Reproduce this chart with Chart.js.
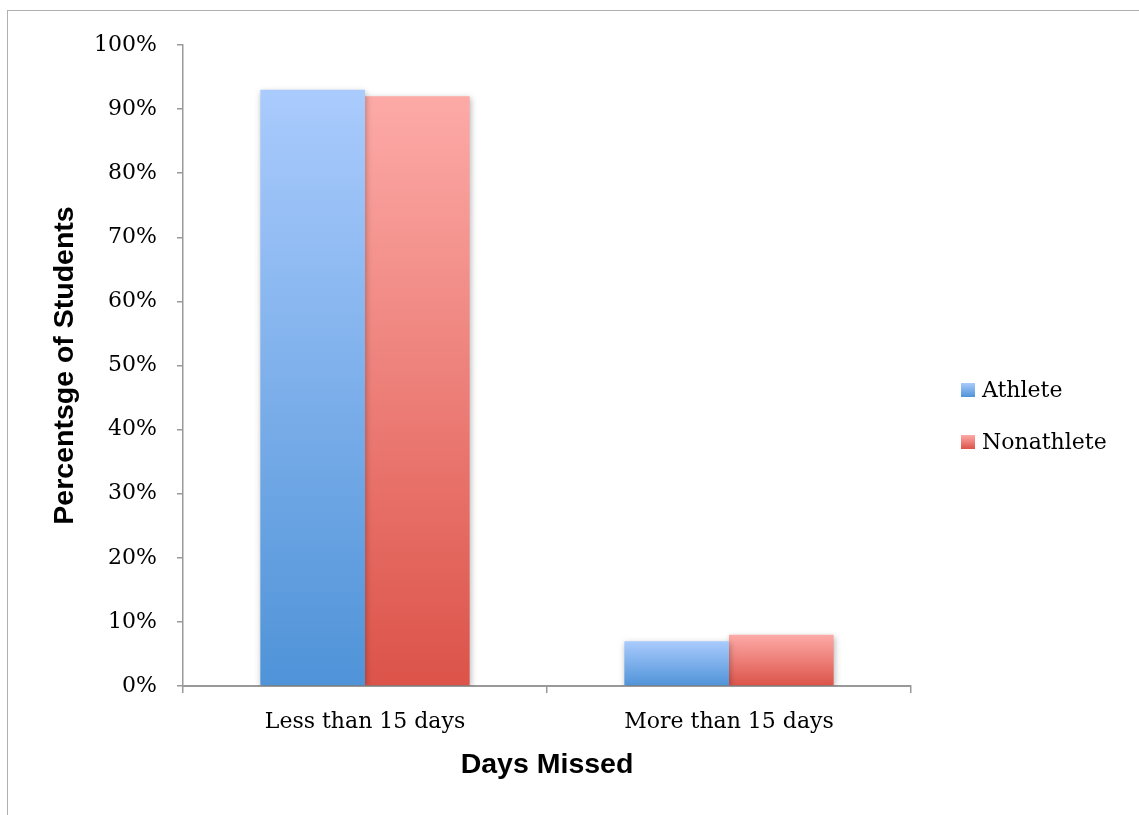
<!DOCTYPE html>
<html>
<head>
<meta charset="utf-8">
<script src="https://cdn.jsdelivr.net/npm/chart.js@4"></script>
<style>
  body { margin: 0; background: #fff; overflow: hidden; }
  #wrap { position: relative; width: 1139px; height: 815px; }
  #frame { position: absolute; left: 7px; top: 10px; width: 1200px; height: 900px; border: 1.5px solid #b0b0b0; }
  #c { position: absolute; left: 0; top: 0; }
</style>
</head>
<body>
<div id="wrap">
  <div id="frame"></div>
  <canvas id="c" width="1139" height="815"></canvas>
</div>
<script>
var categories = ['Less than 15 days', 'More than 15 days'];
var athlete = [93, 7];
var nonathlete = [92, 8];
var yTicks = [0, 10, 20, 30, 40, 50, 60, 70, 80, 90, 100];

var blue = { top: '#aacbfd', bottom: '#4f93d8' };
var red = { top: '#fdaaa7', bottom: '#dc5349' };

// vertical gradient per bar, light on top and dark at the base
function barFill(colors) {
  return function (context) {
    var chart = context.chart;
    if (!chart.chartArea || context.type !== 'data') return colors.bottom;
    var y = chart.scales.y;
    var top = y.getPixelForValue(context.raw);
    var base = y.getPixelForValue(0);
    if (!isFinite(top) || base - top < 1) return colors.bottom;
    var g = chart.ctx.createLinearGradient(0, top, 0, base);
    g.addColorStop(0, colors.top);
    g.addColorStop(1, colors.bottom);
    return g;
  };
}

var serif = 'DejaVu Serif';

var barShadow = {
  id: 'barShadow',
  beforeDatasetsDraw: function (chart) {
    var ctx = chart.ctx;
    ctx.save();
    ctx.shadowColor = 'rgba(0,0,0,0.28)';
    ctx.shadowBlur = 6;
    ctx.shadowOffsetX = 1;
    ctx.shadowOffsetY = 2;
  },
  afterDatasetsDraw: function (chart) {
    chart.ctx.restore();
  }
};

var sideLegend = {
  id: 'sideLegend',
  afterDraw: function (chart) {
    var ctx = chart.ctx;
    var x = chart.chartArea.right + 50;
    var y = 390;
    var pal = [blue, red];
    ctx.save();
    ctx.font = '22px "' + serif + '"';
    ctx.textBaseline = 'middle';
    ctx.textAlign = 'left';
    chart.data.datasets.forEach(function (ds, i) {
      var yy = y + i * 52;
      var g = ctx.createLinearGradient(0, yy - 7, 0, yy + 7);
      g.addColorStop(0, pal[i].top);
      g.addColorStop(1, pal[i].bottom);
      ctx.fillStyle = g;
      ctx.fillRect(x, yy - 7, 14, 14);
      ctx.fillStyle = '#000';
      ctx.fillText(ds.label, x + 21, yy + 1);
    });
    ctx.restore();
  }
};

var ctx = document.getElementById('c').getContext('2d');
var chart = new Chart(ctx, {
  type: 'bar',
  data: {
    labels: categories,
    datasets: [{
      label: 'Athlete',
      data: athlete,
      backgroundColor: barFill(blue),
      borderWidth: 0,
      categoryPercentage: 0.575,
      barPercentage: 1.0
    }, {
      label: 'Nonathlete',
      data: nonathlete,
      backgroundColor: barFill(red),
      borderWidth: 0,
      categoryPercentage: 0.575,
      barPercentage: 1.0
    }]
  },
  options: {
    responsive: false,
    animation: false,
    layout: { padding: { top: 45, right: 228, bottom: 0, left: 0 } },
    plugins: {
      legend: { display: false },
      tooltip: { enabled: false }
    },
    scales: {
      x: {
        grid: { offset: true, drawOnChartArea: false, drawTicks: true, tickLength: 7, color: '#999', lineWidth: 1.5 },
        border: { color: '#999', width: 2 },
        ticks: { color: '#000', padding: 16, font: { family: serif, size: 22 } },
        title: {
          display: true,
          text: 'Days Missed',
          color: '#000',
          font: { family: 'Liberation Sans', size: 28.5, weight: 'bold' },
          padding: { top: 0, bottom: 33 }
        },
        afterFit: function (scale) { scale.height = 129; }
      },
      y: {
        min: 0,
        max: 100,
        afterBuildTicks: function (scale) {
          scale.ticks = yTicks.map(function (v) { return { value: v }; });
        },
        grid: { drawOnChartArea: false, drawTicks: true, tickLength: 6, color: '#999', lineWidth: 1.5 },
        border: { color: '#999', width: 1.5 },
        ticks: {
          color: '#000',
          padding: 20,
          font: { family: serif, size: 22 },
          callback: function (v) { return v + '%'; }
        },
        title: {
          display: true,
          text: 'Percentsge of Students',
          color: '#000',
          font: { family: 'Liberation Sans', size: 28.5, weight: 'bold' },
          padding: { top: 48, bottom: 0 }
        },
        afterFit: function (scale) { scale.width = 183; }
      }
    }
  },
  plugins: [barShadow, sideLegend]
});
</script>
</body>
</html>
